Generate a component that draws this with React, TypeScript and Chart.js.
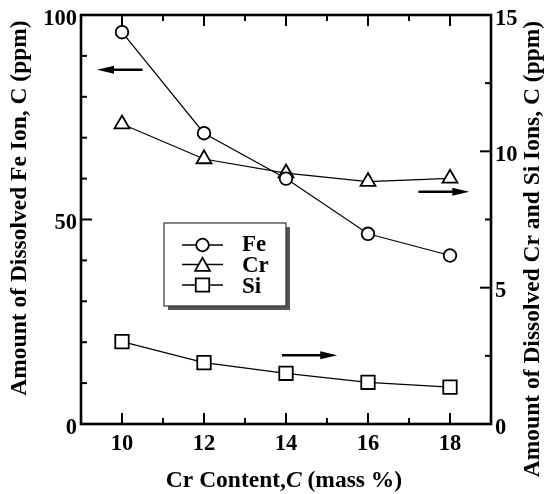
import React, { useEffect, useRef } from "react";
import { Chart, registerables } from "chart.js";
Chart.register(...registerables);

// ---- data ----
const crContent = [10, 12, 14, 16, 18];
const feIon = [95.8, 71.1, 60.0, 46.5, 41.2];
const crIon = [11.0, 9.72, 9.2, 8.89, 9.01];
const siIon = [3.02, 2.25, 1.86, 1.53, 1.35];

// ---- ticks ----
const xTicks = [10, 11, 12, 13, 14, 15, 16, 17, 18];
const xTickLabels = [10, 12, 14, 16, 18];
const leftTicks = [0, 10, 20, 30, 40, 50, 60, 70, 80, 90, 100];
const leftTickLabels = [0, 50, 100];
const rightTicks = [0, 2.5, 5, 7.5, 10, 12.5, 15];
const rightTickLabels = [0, 5, 10, 15];

const xTitleParts: [string, boolean][] = [["Cr Content,", false], ["C", true], [" (mass %)", false]];
const leftTitle = "Amount of Dissolved Fe Ion, C (ppm)";
const rightTitle = "Amount of Dissolved Cr and Si Ions, C (ppm)";
const legendLabels = ["Fe", "Cr", "Si"];
const legendStyles = ["circle", "triangle", "rect"];

// arrows (data units): [axisId, xTail, xHead, yValue]
const arrows: [string, number, number, number][] = [
  ["y", 10.5, 9.39, 86.6],
  ["y2", 17.23, 18.47, 8.52],
  ["y2", 13.9, 15.25, 2.52],
];

const FONT = '"Liberation Serif", "Times New Roman", serif';

function marker(ctx: CanvasRenderingContext2D, style: string, x: number, y: number, r: number) {
  ctx.beginPath();
  if (style === "circle") {
    ctx.arc(x, y, r, 0, Math.PI * 2);
  } else if (style === "triangle") {
    let rad = 0;
    ctx.moveTo(x + Math.sin(rad) * r, y - Math.cos(rad) * r);
    rad += (2 * Math.PI) / 3;
    ctx.lineTo(x + Math.sin(rad) * r, y - Math.cos(rad) * r);
    rad += (2 * Math.PI) / 3;
    ctx.lineTo(x + Math.sin(rad) * r, y - Math.cos(rad) * r);
    ctx.closePath();
  } else {
    const s = Math.SQRT1_2 * r;
    ctx.rect(x - s, y - s, 2 * s, 2 * s);
  }
  ctx.fillStyle = "#fff";
  ctx.fill();
  ctx.stroke();
}

const radii: Record<string, number> = { circle: 6.3, triangle: 8.6, rect: 9.5 };

const customPlugin = {
  id: "customDraw",
  afterDraw(chart: any) {
    const ctx: CanvasRenderingContext2D = chart.ctx;
    const { left, right, top, bottom } = chart.chartArea;
    const xs = chart.scales.x;
    const ys = chart.scales.y;
    const y2s = chart.scales.y2;
    ctx.save();
    ctx.strokeStyle = "#000";
    ctx.fillStyle = "#000";
    const line = (x1: number, yA: number, x2: number, yB: number) => {
      ctx.beginPath();
      ctx.moveTo(x1, yA);
      ctx.lineTo(x2, yB);
      ctx.stroke();
    };
    // ticks
    ctx.lineWidth = 2;
    xTicks.forEach((v) => {
      const px = xs.getPixelForValue(v);
      const len = xTickLabels.includes(v) ? 11 : 6;
      line(px, bottom, px, bottom - len);
      line(px, top, px, top + len);
    });
    leftTicks.forEach((v) => {
      const py = ys.getPixelForValue(v);
      const len = leftTickLabels.includes(v) ? 11 : 6;
      line(left, py, left + len, py);
    });
    rightTicks.forEach((v) => {
      const py = y2s.getPixelForValue(v);
      const len = rightTickLabels.includes(v) ? 11 : 6;
      line(right, py, right - len, py);
    });
    // frame
    ctx.lineWidth = 2.6;
    ctx.strokeRect(left, top, right - left, bottom - top);

    // tick labels
    ctx.font = `bold 22.5px ${FONT}`;
    ctx.textBaseline = "middle";
    ctx.textAlign = "right";
    leftTickLabels.forEach((v) => {
      ctx.fillText(String(v), left - 4, ys.getPixelForValue(v) + 4);
    });
    ctx.textAlign = "left";
    rightTickLabels.forEach((v) => {
      ctx.fillText(String(v), right + 4, y2s.getPixelForValue(v) + 4);
    });
    ctx.textAlign = "center";
    ctx.textBaseline = "alphabetic";
    xTickLabels.forEach((v) => {
      ctx.fillText(String(v), xs.getPixelForValue(v), bottom + 26);
    });

    // x title (mixed italic)
    const titleF = `bold 23.5px ${FONT}`;
    const italicF = `italic bold 23.5px ${FONT}`;
    let total = 0;
    xTitleParts.forEach(([t, it]) => {
      ctx.font = it ? italicF : titleF;
      total += ctx.measureText(t).width;
    });
    let cx = (left + right) / 2 - 2 - total / 2;
    ctx.textAlign = "left";
    xTitleParts.forEach(([t, it]) => {
      ctx.font = it ? italicF : titleF;
      ctx.fillText(t, cx, 487);
      cx += ctx.measureText(t).width;
    });

    // y titles
    ctx.font = titleF;
    ctx.textAlign = "center";
    ctx.save();
    ctx.translate(26, 208);
    ctx.rotate(-Math.PI / 2);
    ctx.fillText(leftTitle, 0, 0);
    ctx.restore();
    ctx.save();
    ctx.translate(539, 249);
    ctx.rotate(-Math.PI / 2);
    ctx.fillText(rightTitle, 0, 0);
    ctx.restore();

    // arrows
    ctx.lineWidth = 2.5;
    arrows.forEach(([axis, xt, xh, yv]) => {
      const sc = axis === "y" ? ys : y2s;
      const py = sc.getPixelForValue(yv);
      const pt = xs.getPixelForValue(xt);
      const ph = xs.getPixelForValue(xh);
      const dir = ph > pt ? 1 : -1;
      const headLen = 17;
      line(pt, py, ph - dir * headLen * 0.6, py);
      ctx.beginPath();
      ctx.moveTo(ph, py);
      ctx.lineTo(ph - dir * headLen, py - 4);
      ctx.lineTo(ph - dir * headLen, py + 4);
      ctx.closePath();
      ctx.fill();
    });

    // legend box
    const bx = 164, by = 223, bw = 122, bh = 83;
    ctx.fillStyle = "#555";
    ctx.fillRect(bx + 4, by + 4, bw, bh);
    ctx.fillStyle = "#fff";
    ctx.fillRect(bx, by, bw, bh);
    ctx.lineWidth = 1.2;
    ctx.strokeStyle = "#333";
    ctx.strokeRect(bx, by, bw, bh);
    ctx.strokeStyle = "#000";
    const rowY = [245, 264.5, 285];
    const baseY = [251, 272, 293];
    legendLabels.forEach((lab, i) => {
      ctx.lineWidth = 1.6;
      line(182, rowY[i], 223, rowY[i]);
      ctx.lineWidth = 1.8;
      const st = legendStyles[i];
      marker(ctx, st, 202.5, st === "triangle" ? rowY[i] + 2 : rowY[i], radii[st]);
      ctx.fillStyle = "#000";
      ctx.font = `bold 23px ${FONT}`;
      ctx.textAlign = "left";
      ctx.fillText(lab, 242, baseY[i]);
    });
    ctx.restore();
  },
};

export default function App() {
  const ref = useRef<HTMLCanvasElement>(null);
  useEffect(() => {
    if (!ref.current) return;
    const mk = (label: string, data: number[], axis: string, style: string) => ({
      label,
      data: crContent.map((x, i) => ({ x, y: data[i] })),
      yAxisID: axis,
      borderColor: "#000",
      borderWidth: 1.2,
      pointStyle: style,
      pointRadius: radii[style],
      pointBorderWidth: 1.8,
      pointBorderColor: "#000",
      pointBackgroundColor: "#fff",
      showLine: true,
      clip: false as any,
    });
    const chart = new Chart(ref.current, {
      type: "scatter",
      data: {
        datasets: [
          mk("Fe", feIon, "y", "circle"),
          mk("Cr", crIon, "y2", "triangle"),
          mk("Si", siIon, "y2", "rect"),
        ],
      },
      options: {
        animation: false,
        responsive: false,
        devicePixelRatio: 1,
        layout: { padding: { top: 15, left: 0, right: 0, bottom: 0 } },
        plugins: { legend: { display: false }, tooltip: { enabled: false } },
        scales: {
          x: {
            type: "linear",
            position: "bottom",
            min: 9,
            max: 19,
            grid: { display: false },
            border: { display: false },
            ticks: { display: false },
            afterFit: (s: any) => {
              s.height = 70;
            },
          },
          y: {
            type: "linear",
            position: "left",
            min: 0,
            max: 100,
            grid: { display: false },
            border: { display: false },
            ticks: { display: false },
            afterFit: (s: any) => {
              s.width = 81;
            },
          },
          y2: {
            type: "linear",
            position: "right",
            min: 0,
            max: 15,
            grid: { display: false },
            border: { display: false },
            ticks: { display: false },
            afterFit: (s: any) => {
              s.width = 58;
            },
          },
        },
      } as any,
      plugins: [customPlugin],
    });
    return () => chart.destroy();
  }, []);
  return (
    <div style={{ position: "fixed", left: 0, top: 0, width: 549, height: 494, background: "#fff" }}>
      <canvas ref={ref} width={549} height={494} />
    </div>
  );
}
